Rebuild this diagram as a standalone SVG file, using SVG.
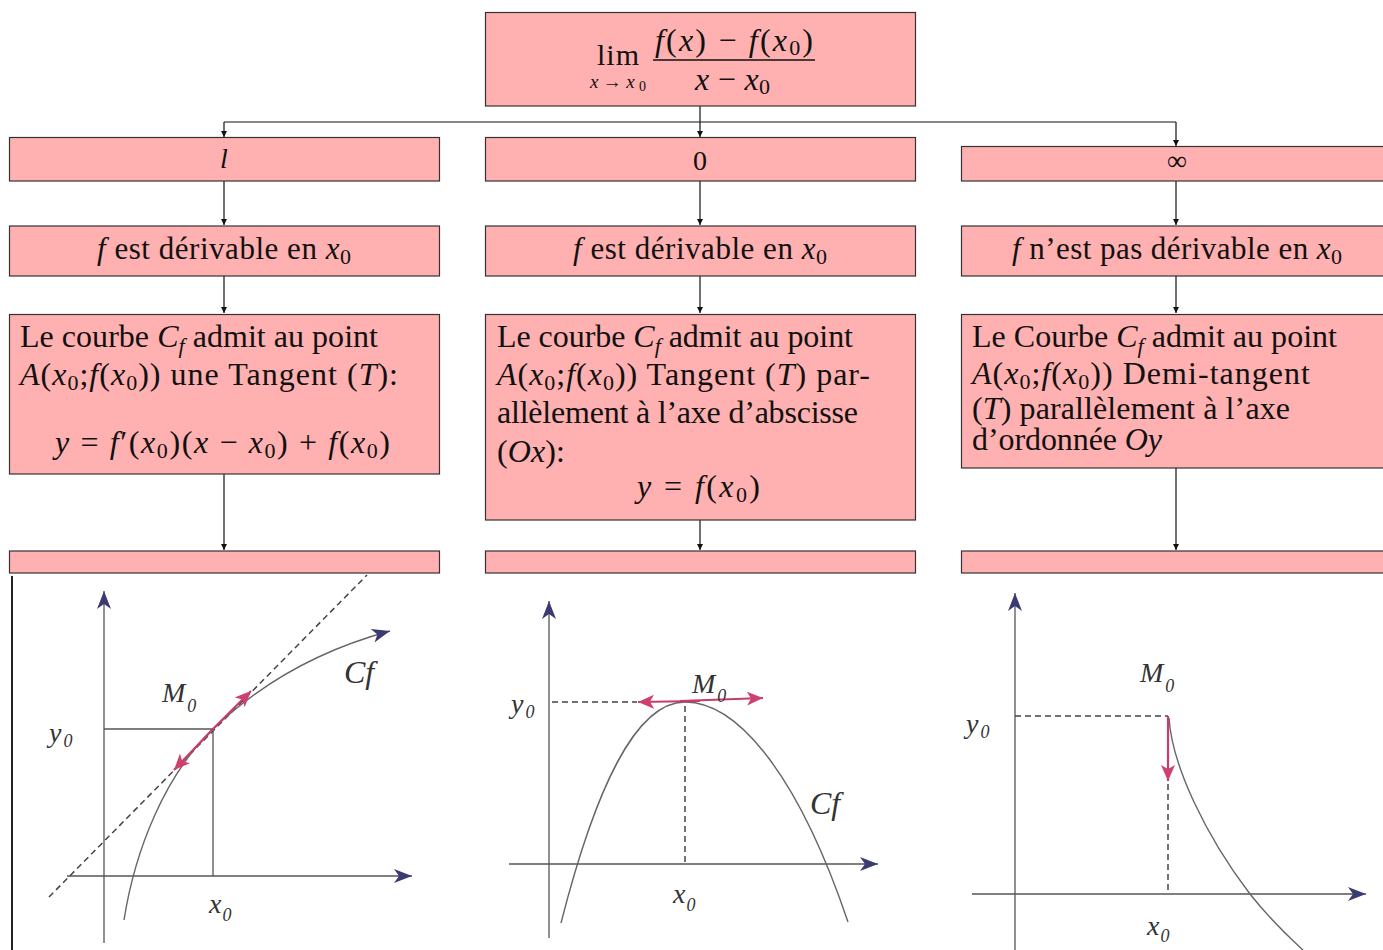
<svg xmlns="http://www.w3.org/2000/svg" width="1383" height="950" viewBox="0 0 1383 950">
<style>
.box{fill:#ffb0b0;stroke:#333;stroke-width:1.2}
.t{font-family:"Liberation Serif","Times New Roman",serif;font-size:32px;fill:#111}
.h{font-size:31px}
.i{font-style:italic}
.s{font-size:22px}
.c{stroke:#111;stroke-width:1.2;fill:none}
.ax{stroke:#555;stroke-width:1.3;fill:none}
.cv{stroke:#666;stroke-width:1.4;fill:none}
.dash{stroke:#444;stroke-width:1.5;stroke-dasharray:6,4;fill:none}
.pk{stroke:#c83c68;stroke-width:2.2;fill:none}
.g{font-family:"Liberation Serif","Times New Roman",serif;font-style:italic;font-size:28px;fill:#333}
.gs{font-size:18px}
</style>
<defs>
<marker id="ah" markerUnits="userSpaceOnUse" markerWidth="8" markerHeight="8" refX="6" refY="3" orient="auto"><path d="M0,0 L6,3 L0,6 z" fill="#111"/></marker>
<marker id="ba" markerUnits="userSpaceOnUse" markerWidth="20" markerHeight="16" refX="18" refY="7" orient="auto"><path d="M0,0 L18,7 L0,14 L5,7 z" fill="#3b3b72"/></marker>
<marker id="pa" markerUnits="userSpaceOnUse" markerWidth="20" markerHeight="16" refX="16" refY="7" orient="auto"><path d="M0,0 L16,7 L0,14 L4,7 z" fill="#d0406e"/></marker>
</defs>
<rect width="1383" height="950" fill="#fff"/>

<g id="connectors">
<path class="c" d="M700,106 V122"/>
<path class="c" d="M224,122 H1176"/>
<path class="c" d="M700,122 V137" marker-end="url(#ah)"/>
<path class="c" d="M224,122 V137" marker-end="url(#ah)"/>
<path class="c" d="M1176,122 V146" marker-end="url(#ah)"/>
<path class="c" d="M224,181 V225" marker-end="url(#ah)"/>
<path class="c" d="M700,181 V225" marker-end="url(#ah)"/>
<path class="c" d="M1176,181 V225" marker-end="url(#ah)"/>
<path class="c" d="M224,276 V313" marker-end="url(#ah)"/>
<path class="c" d="M700,276 V313" marker-end="url(#ah)"/>
<path class="c" d="M1176,276 V313" marker-end="url(#ah)"/>
<path class="c" d="M224,474 V550" marker-end="url(#ah)"/>
<path class="c" d="M700,520 V550" marker-end="url(#ah)"/>
<path class="c" d="M1176,468 V550" marker-end="url(#ah)"/>
</g>

<g id="n-limit">
<rect class="box" x="485.5" y="12.5" width="430" height="93.5"/>
<text class="t" x="597" y="65" style="font-size:30px" textLength="42" lengthAdjust="spacing">lim</text>
<text class="t" x="590" y="88" style="font-size:19px" textLength="56" lengthAdjust="spacing"><tspan class="i">x</tspan>→<tspan class="i">x</tspan><tspan dy="3" style="font-size:14px">0</tspan></text>
<text class="t" x="655" y="51" style="font-size:32px" textLength="158" lengthAdjust="spacing"><tspan class="i">f</tspan>(<tspan class="i">x</tspan>) − <tspan class="i">f</tspan>(<tspan class="i">x</tspan><tspan class="s" dy="4">0</tspan><tspan dy="-4">)</tspan></text>
<line x1="653" y1="60" x2="815" y2="60" stroke="#111" stroke-width="1.3"/>
<text class="t" x="695" y="90" style="font-size:32px" textLength="75" lengthAdjust="spacing"><tspan class="i">x</tspan> − <tspan class="i">x</tspan><tspan class="s" dy="4">0</tspan></text>
</g>

<g id="n-l">
<rect class="box" x="9.5" y="137.5" width="430" height="43.5"/>
<text class="t i" x="224" y="168" text-anchor="middle" style="font-size:28px">l</text>
</g>
<g id="n-0">
<rect class="box" x="485.5" y="137.5" width="430" height="43.5"/>
<text class="t" x="700" y="170" text-anchor="middle" style="font-size:28px">0</text>
</g>
<g id="n-inf">
<rect class="box" x="961.5" y="146.5" width="430" height="34.5"/>
<text class="t" x="1177" y="170" text-anchor="middle" style="font-size:28px">∞</text>
</g>

<g id="n-der1">
<rect class="box" x="9.5" y="226" width="430" height="50"/>
<text class="t h" x="97" y="259" textLength="254" lengthAdjust="spacing"><tspan class="i">f</tspan> est dérivable en <tspan class="i">x</tspan><tspan class="s" dy="5">0</tspan></text>
</g>
<g id="n-der2">
<rect class="box" x="485.5" y="226" width="430" height="50"/>
<text class="t h" x="573" y="259" textLength="254" lengthAdjust="spacing"><tspan class="i">f</tspan> est dérivable en <tspan class="i">x</tspan><tspan class="s" dy="5">0</tspan></text>
</g>
<g id="n-der3">
<rect class="box" x="961.5" y="226" width="430" height="50"/>
<text class="t h" x="1012" y="259" textLength="330" lengthAdjust="spacing"><tspan class="i">f</tspan> n’est pas dérivable en <tspan class="i">x</tspan><tspan class="s" dy="5">0</tspan></text>
</g>

<g id="n-tan1">
<rect class="box" x="9.5" y="314.5" width="430" height="159.5"/>
<text class="t" x="20" y="347" textLength="358" lengthAdjust="spacing">Le courbe <tspan class="i">C</tspan><tspan class="s i" dy="6">f</tspan><tspan dy="-6"> admit au point</tspan></text>
<text class="t" x="20" y="385" textLength="378" lengthAdjust="spacing"><tspan class="i">A</tspan>(<tspan class="i">x</tspan><tspan class="s" dy="5">0</tspan><tspan dy="-5">;</tspan><tspan class="i">f</tspan>(<tspan class="i">x</tspan><tspan class="s" dy="5">0</tspan><tspan dy="-5">)) une Tangent (</tspan><tspan class="i">T</tspan>):</text>
<text class="t" x="55" y="453" textLength="335" lengthAdjust="spacing"><tspan class="i">y</tspan> = <tspan class="i">f</tspan>′(<tspan class="i">x</tspan><tspan class="s" dy="5">0</tspan><tspan dy="-5">)(</tspan><tspan class="i">x</tspan> − <tspan class="i">x</tspan><tspan class="s" dy="5">0</tspan><tspan dy="-5">) + </tspan><tspan class="i">f</tspan>(<tspan class="i">x</tspan><tspan class="s" dy="5">0</tspan><tspan dy="-5">)</tspan></text>
</g>

<g id="n-tan2">
<rect class="box" x="485.5" y="314.5" width="430" height="205.5"/>
<text class="t" x="497" y="347" textLength="356" lengthAdjust="spacing">Le courbe <tspan class="i">C</tspan><tspan class="s i" dy="6">f</tspan><tspan dy="-6"> admit au point</tspan></text>
<text class="t" x="497" y="385" textLength="373" lengthAdjust="spacing"><tspan class="i">A</tspan>(<tspan class="i">x</tspan><tspan class="s" dy="5">0</tspan><tspan dy="-5">;</tspan><tspan class="i">f</tspan>(<tspan class="i">x</tspan><tspan class="s" dy="5">0</tspan><tspan dy="-5">)) Tangent (</tspan><tspan class="i">T</tspan>) par-</text>
<text class="t" x="497" y="423" textLength="361" lengthAdjust="spacing">allèlement à l’axe d’abscisse</text>
<text class="t" x="497" y="462" textLength="68" lengthAdjust="spacing">(<tspan class="i">Ox</tspan>):</text>
<text class="t" x="637" y="497" textLength="123" lengthAdjust="spacing"><tspan class="i">y</tspan> = <tspan class="i">f</tspan>(<tspan class="i">x</tspan><tspan class="s" dy="5">0</tspan><tspan dy="-5">)</tspan></text>
</g>

<g id="n-tan3">
<rect class="box" x="961.5" y="314.5" width="430" height="153.5"/>
<text class="t" x="972" y="347" textLength="365" lengthAdjust="spacing">Le Courbe <tspan class="i">C</tspan><tspan class="s i" dy="6">f</tspan><tspan dy="-6"> admit au point</tspan></text>
<text class="t" x="972" y="384" textLength="338" lengthAdjust="spacing"><tspan class="i">A</tspan>(<tspan class="i">x</tspan><tspan class="s" dy="5">0</tspan><tspan dy="-5">;</tspan><tspan class="i">f</tspan>(<tspan class="i">x</tspan><tspan class="s" dy="5">0</tspan><tspan dy="-5">)) Demi-tangent</tspan></text>
<text class="t" x="972" y="419" textLength="318" lengthAdjust="spacing">(<tspan class="i">T</tspan>) parallèlement à l’axe</text>
<text class="t" x="972" y="450" textLength="190" lengthAdjust="spacing">d’ordonnée <tspan class="i">Oy</tspan></text>
</g>

<g id="n-strip1"><rect class="box" x="9.5" y="551" width="430" height="22"/></g>
<g id="n-strip2"><rect class="box" x="485.5" y="551" width="430" height="22"/></g>
<g id="n-strip3"><rect class="box" x="961.5" y="551" width="430" height="22"/></g>

<g id="graph1">
<line x1="12" y1="576" x2="12" y2="950" stroke="#222" stroke-width="2"/>
<path class="ax" d="M104,943 V591" marker-end="url(#ba)"/>
<path class="ax" d="M67,876 H412" marker-end="url(#ba)"/>
<path class="ax" d="M104,729 H213 V876"/>
<path class="dash" d="M49,897 L367,575"/>
<path class="cv" d="M124,920 C135,850 165,775 213,729 C260,684 320,650 390,631" marker-end="url(#ba)"/>
<path class="pk" d="M213,729 L251,691" marker-end="url(#pa)"/>
<path class="pk" d="M213,729 L174,770" marker-end="url(#pa)"/>
<text class="g" x="162" y="702">M<tspan class="gs" dx="2" dy="10">0</tspan></text>
<text class="g" x="49" y="742">y<tspan class="gs" dx="2" dy="5">0</tspan></text>
<text class="g" x="344" y="683" style="font-size:32px">Cf</text>
<text class="g" x="209" y="913">x<tspan class="gs" dx="1" dy="8">0</tspan></text>
</g>

<g id="graph2">
<path class="ax" d="M549,938 V601" marker-end="url(#ba)"/>
<path class="ax" d="M509,864 H878" marker-end="url(#ba)"/>
<path class="cv" d="M561,923 C595,790 635,702 685,702 C740,702 800,780 848,922"/>
<path class="dash" d="M552,702 H637"/>
<path class="dash" d="M685,706 V862"/>
<path class="pk" d="M700,701 L638,702" marker-end="url(#pa)"/>
<path class="pk" d="M680,701 L763,698" marker-end="url(#pa)"/>
<text class="g" x="692" y="693">M<tspan class="gs" dx="2" dy="9">0</tspan></text>
<text class="g" x="511" y="713">y<tspan class="gs" dx="2" dy="5">0</tspan></text>
<text class="g" x="810" y="814" style="font-size:32px">Cf</text>
<text class="g" x="673" y="903">x<tspan class="gs" dx="1" dy="8">0</tspan></text>
</g>

<g id="graph3">
<path class="ax" d="M1015,950 V593" marker-end="url(#ba)"/>
<path class="ax" d="M972,894 H1366" marker-end="url(#ba)"/>
<path class="dash" d="M1015,716 H1168"/>
<path class="dash" d="M1168,784 V892"/>
<path class="cv" d="M1169,718 C1172,765 1205,835 1250,894 C1272,922 1290,938 1305,952"/>
<path class="pk" d="M1168,716 V781" marker-end="url(#pa)"/>
<text class="g" x="1140" y="682">M<tspan class="gs" dx="2" dy="10">0</tspan></text>
<text class="g" x="966" y="733">y<tspan class="gs" dx="2" dy="5">0</tspan></text>
<text class="g" x="1147" y="935">x<tspan class="gs" dx="1" dy="7">0</tspan></text>
</g>
</svg>
